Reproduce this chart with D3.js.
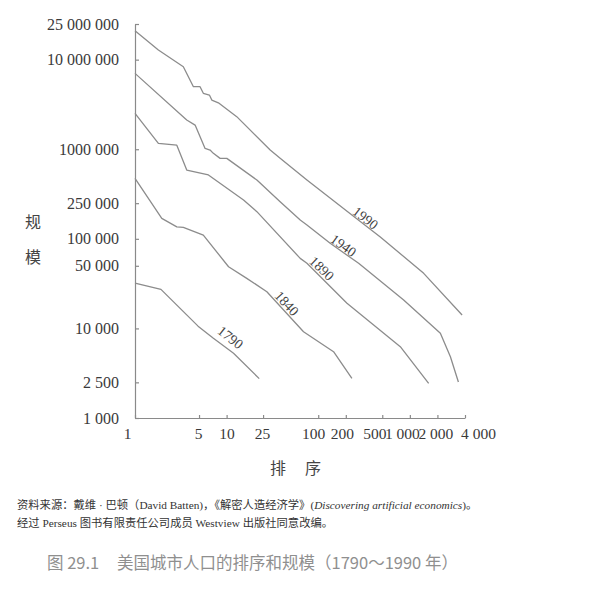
<!DOCTYPE html>
<html><head><meta charset="utf-8">
<script src="https://cdn.jsdelivr.net/npm/d3@7"></script>
<style>body{margin:0;background:#fff}svg{display:block}</style>
</head><body><svg id="c" width="602" height="605"></svg>
<script>
// ---- data (rank, city size) ----
const years = ["1790", "1840", "1890", "1940", "1990"];
const rank1790 = [1, 1.92, 4.88, 7.17, 11.9, 22.7];
const size1790 = [32100, 27300, 10600, 7750, 5270, 2750];
const rank1840 = [1, 1.96, 2.86, 3.37, 5.57, 10.5, 16.6, 27.5, 69.1, 147, 233];
const size1840 = [473000, 169000, 136000, 134000, 110000, 48800, 36200, 25700, 9180, 5500, 2770];
const rank1890 = [1, 1.8, 2.86, 3.67, 6.33, 15.3, 21.4, 63.6, 75.3, 206, 787, 1604];
const size1890 = [2520000, 1160000, 1110000, 586000, 516000, 271000, 201000, 60500, 53300, 19100, 6250, 2440];
const rank1940 = [1, 3.67, 4.53, 5.82, 6.6, 7.17, 8.49, 10.05, 21.4, 38.4, 63.6, 75.3, 135, 276, 856, 2154, 2772, 3388];
const size1940 = [7030000, 2120000, 1860000, 1020000, 980000, 900000, 791000, 791000, 453000, 259000, 162000, 143000, 89100, 53300, 20700, 8810, 4830, 2520];
const rank1990 = [1, 1.8, 3.37, 4.34, 5.13, 5.57, 6.49, 6.89, 8.13, 12.9, 29.9, 38.4, 75.3, 233, 476, 1416, 3718];
const size1990 = [21000000, 12800000, 8340000, 4990000, 4990000, 4210000, 4030000, 3540000, 3300000, 2310000, 980000, 791000, 453000, 185000, 105000, 41200, 14100];
const labelRanks = [9.3, 40, 97, 173, 299];

const xTickValues = [1, 5, 10, 25, 100, 200, 500, 1000, 2000, 4000];
const xTickLabels = ["1", "5", "10", "25", "100", "200", "500", "1 000", "2 000", "4 000"];
const yTickValues = [1000, 2500, 10000, 50000, 100000, 250000, 1000000, 10000000, 25000000];
const yTickLabels = ["1 000", "2 500", "10 000", "50 000", "100 000", "250 000", "1000 000", "10 000 000", "25 000 000"];

const yTitleChars = ["规", "模"];
const xTitleChars = ["排", "序"];
const sourceLine1a = "资料来源：戴维 · 巴顿（David Batten)，《解密人造经济学》(";
const sourceLine1b = "Discovering artificial economics";
const sourceLine1c = ")。";
const sourceLine2 = "经过 Perseus 图书有限责任公司成员 Westview 出版社同意改编。";
const captionNo = "图 29.1";
const captionText = "美国城市人口的排序和规模（1790～1990 年）";

// ---- layout ----
const series = [
  {year: years[0], r: rank1790, s: size1790},
  {year: years[1], r: rank1840, s: size1840},
  {year: years[2], r: rank1890, s: size1890},
  {year: years[3], r: rank1940, s: size1940},
  {year: years[4], r: rank1990, s: size1990}
].map((d, i) => ({year: d.year, lr: labelRanks[i], pts: d.r.map((r, j) => ({r, s: d.s[j]}))}));
const labelGap = [11, 7, 7, 6, 6];

const svg = d3.select("#c");
const x = d3.scaleLog().domain([1, 4000]).range([135, 465]);
const y = d3.scaleLog().domain([1000, 25000000]).range([418, 24]);

const lineCol = "#8c8c8c", axisCol = "#8a8a8a", textCol = "#3a3a3a";
const serif = "'Liberation Serif', 'Noto Sans CJK SC', serif";

// axes
const xOffsets = {"1": -8, "5": -1, "10": 0, "25": -1, "100": -5, "200": -4, "500": -8, "1 000": -8, "2 000": -2, "4 000": 13};
const gx = svg.append("g").attr("transform", "translate(0,418)")
  .call(d3.axisBottom(x).tickValues(xTickValues).tickFormat((d, i) => xTickLabels[i])
    .tickSizeInner(-3).tickSizeOuter(0).tickPadding(10));
gx.selectAll("text").attr("dx", (d, i) => xOffsets[xTickLabels[i]]);

const gy = svg.append("g").attr("transform", "translate(135,0)")
  .call(d3.axisLeft(y).tickValues(yTickValues).tickFormat((d, i) => yTickLabels[i])
    .tickSizeInner(-4).tickSizeOuter(0).tickPadding(16));

gx.attr("font-size", 15.5);
gy.attr("font-size", 16);
[gx, gy].forEach(g => {
  g.attr("font-family", serif);
  g.select(".domain").attr("stroke", axisCol).attr("stroke-width", 1.2);
  g.selectAll(".tick line").attr("stroke", axisCol).attr("stroke-width", 1.2);
  g.selectAll(".tick text").attr("fill", textCol);
});

// lines
const line = d3.line().x(d => x(d.r)).y(d => y(d.s));
svg.append("g").selectAll("path").data(series).join("path")
  .attr("d", d => line(d.pts))
  .attr("fill", "none").attr("stroke", lineCol).attr("stroke-width", 1.3)
  .attr("stroke-linejoin", "round");

// year labels along lines
function yAt(pix, px) {
  for (let i = 0; i < pix.length - 1; i++) {
    const [x0, y0] = pix[i], [x1, y1] = pix[i + 1];
    if (px >= x0 && px <= x1) return y0 + (px - x0) / (x1 - x0 || 1) * (y1 - y0);
  }
  return pix[pix.length - 1][1];
}
svg.append("g").selectAll("text").data(series).join("text")
  .attr("transform", (d, i) => {
    const pix = d.pts.map(p => [x(p.r), y(p.s)]);
    const px = x(d.lr), py = yAt(pix, px);
    const a = Math.atan2(yAt(pix, px + 14) - yAt(pix, px - 14), 28);
    const g = labelGap[i];
    const cx = px + Math.sin(a) * g, cy = py - Math.cos(a) * g;
    return `translate(${cx},${cy}) rotate(${a * 180 / Math.PI})`;
  })
  .attr("text-anchor", "middle").attr("dy", "0.35em")
  .attr("font-family", serif).attr("font-size", 14).attr("fill", "#444")
  .text(d => d.year);

// axis titles
const cjk = "'Noto Sans CJK SC', sans-serif";
svg.append("g").selectAll("text").data(yTitleChars).join("text")
  .attr("x", 33).attr("y", (d, i) => 222 + i * 35).attr("dy", "0.35em")
  .attr("text-anchor", "middle").attr("font-family", cjk).attr("font-size", 16).attr("fill", "#444")
  .text(d => d);
svg.append("g").selectAll("text").data(xTitleChars).join("text")
  .attr("x", (d, i) => 278 + i * 35).attr("y", 468).attr("dy", "0.35em")
  .attr("text-anchor", "middle").attr("font-family", cjk).attr("font-size", 16).attr("fill", "#444")
  .text(d => d);

// source note
const note = svg.append("g").attr("font-family", serif).attr("font-size", 11.3).attr("fill", "#333");
const t1 = note.append("text").attr("x", 17).attr("y", 509);
t1.append("tspan").text(sourceLine1a);
t1.append("tspan").attr("font-style", "italic").text(sourceLine1b);
t1.append("tspan").text(sourceLine1c);
note.append("text").attr("x", 17).attr("y", 527).text(sourceLine2);

// caption
const cap = svg.append("g").attr("font-family", cjk).attr("font-size", 16.5).attr("fill", "#8f8f8f");
cap.append("text").attr("x", 47).attr("y", 569).text(captionNo);
cap.append("text").attr("x", 117).attr("y", 569).text(captionText);
</script></body></html>
